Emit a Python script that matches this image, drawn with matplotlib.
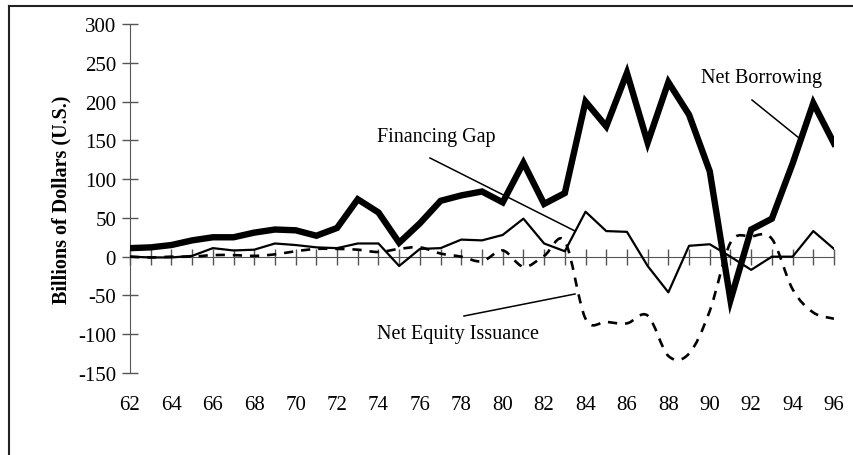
import numpy as np
import matplotlib.pyplot as plt
from matplotlib.path import Path
from matplotlib.patches import PathPatch
from matplotlib.lines import Line2D

plt.rcParams['font.family'] = ['Liberation Serif', 'DejaVu Serif']
plt.rcParams['axes.unicode_minus'] = False

years = list(range(62, 97))
net_borrowing = [11, 12, 15, 21, 25, 25, 31, 35, 34, 27, 37, 74, 57, 18, 43, 72,
                 79, 84, 70, 121, 68, 82, 200, 168, 237, 147, 225, 183, 110, -56,
                 35, 49, 120, 198, 146]
financing_gap = [0, -1, -1, 1, 11, 8, 9, 17, 15, 12, 11, 17, 17, -12, 10, 11,
                 22, 21, 28, 49, 17, 7, 58, 33, 32, -12, -46, 14, 16, 0,
                 -17, 0, 0, 33, 10]
net_equity = [0, -1, 0, 0, 2, 2, 1, 3, 7, 10, 10, 9, 6, 10, 12, 4,
              0, -6, 8, -13, 1, 20, -80, -84, -86, -76, -128, -125, -70, 18,
              26, 23, -42, -72, -80]
label_years = list(range(62, 97, 2))

W, H = 854, 456


def smooth_path(x, y):
    # bezier segments through every point, like a spreadsheet "smoothed line"
    x = np.asarray(x, float)
    y = np.asarray(y, float)
    n = len(x)
    verts = [(x[0], y[0])]
    codes = [Path.MOVETO]
    for i in range(n - 1):
        x0, y0 = (x[i - 1], y[i - 1]) if i > 0 else (x[i], y[i])
        x3, y3 = (x[i + 2], y[i + 2]) if i + 2 < n else (x[i + 1], y[i + 1])
        c1 = (x[i] + (x[i + 1] - x0) / 6, y[i] + (y[i + 1] - y0) / 6)
        c2 = (x[i + 1] - (x3 - x[i]) / 6, y[i + 1] - (y3 - y[i]) / 6)
        verts += [c1, c2, (x[i + 1], y[i + 1])]
        codes += [Path.CURVE4] * 3
    return Path(verts, codes)


def fpos(xp, yp):
    # pixel position measured from the top-left -> figure fraction
    return xp / W, 1 - yp / H


fig = plt.figure(figsize=(W / 100, H / 100), dpi=100)
ax = fig.add_axes([130 / W, 1 - 374 / H, 704 / W, 349 / H])

axis_col = '#555555'
ax.plot(years, net_borrowing, color='black', lw=4.6, solid_joinstyle='miter',
        zorder=4)
ax.plot(years, financing_gap, color='black', lw=1.6, zorder=3)
ax.add_patch(PathPatch(smooth_path(years, net_equity), fill=False,
                       edgecolor='black', lw=1.9, linestyle=(0, (3.5, 3)),
                       zorder=3))

ax.set_xlim(62, 96)
ax.set_ylim(-150, 300)
ax.set_yticks(range(-150, 301, 50))
ax.set_xticks(years)
ax.tick_params(axis='x', labelbottom=False, direction='inout', length=12,
               width=1, color=axis_col)
ax.tick_params(axis='y', direction='inout', length=12, width=1,
               color=axis_col, labelsize=15, pad=4)
for s in ['top', 'right']:
    ax.spines[s].set_visible(False)
ax.spines['bottom'].set_position(('data', 0))
ax.spines['bottom'].set_color(axis_col)
ax.spines['left'].set_color(axis_col)
ax.spines['bottom'].set_zorder(2)

sec = ax.secondary_xaxis(0)
sec.set_xticks(label_years)
sec.set_xticklabels([str(y) for y in label_years])
sec.tick_params(length=0, labelsize=15, pad=16)
sec.spines['bottom'].set_visible(False)

ax.set_ylabel('Billions of Dollars (U.S.)', fontsize=14.5, fontweight='bold',
              labelpad=5)

for txt, (xp, yp) in [('Financing Gap', (436, 138)),
                      ('Net Equity Issuance', (458, 335)),
                      ('Net Borrowing', (762, 79))]:
    fig.text(*fpos(xp, yp), txt, fontsize=14.5, ha='center', va='center')

for p1, p2 in [((430, 159), (575, 232)),
               ((464, 317), (575, 295)),
               ((752, 101), (799, 139))]:
    a, b = fpos(*p1)
    c, d = fpos(*p2)
    fig.add_artist(Line2D([a, c], [b, d], transform=fig.transFigure,
                          color='black', lw=1.1))

# frame of the original picture (only top and left edges visible)
fig.add_artist(Line2D([9 / W, 9 / W], [0, 1 - 7 / H],
                      transform=fig.transFigure, color='#222222', lw=1.5))
fig.add_artist(Line2D([9 / W, 1], [1 - 7 / H, 1 - 7 / H],
                      transform=fig.transFigure, color='#222222', lw=1.5))

fig.savefig('out.png', dpi=100)
